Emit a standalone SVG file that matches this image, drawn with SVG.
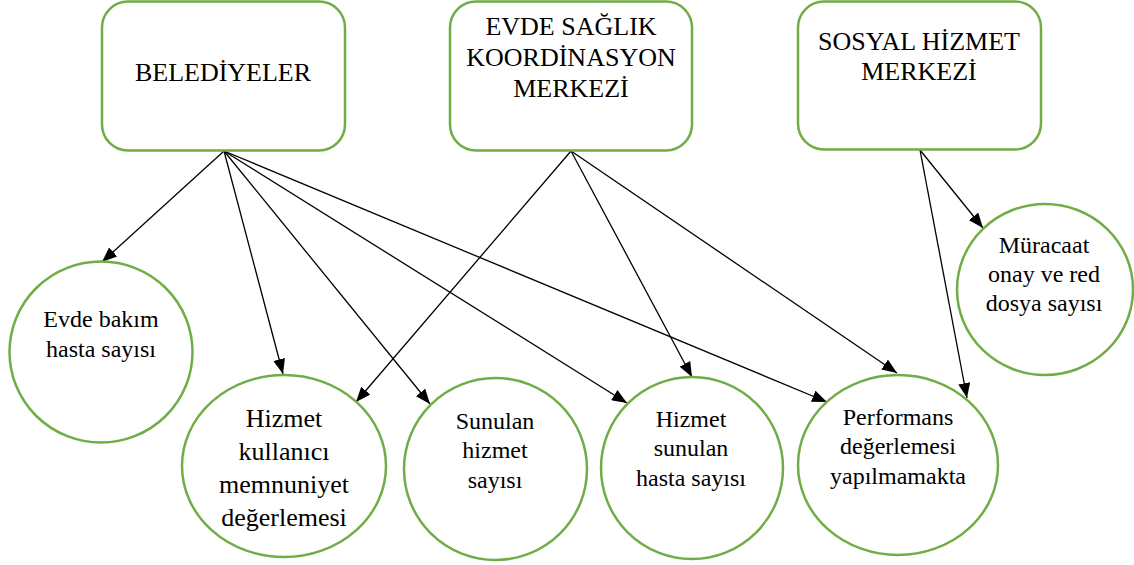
<svg xmlns="http://www.w3.org/2000/svg" width="1134" height="565" viewBox="0 0 1134 565">
<style>
.box{fill:#fff;stroke:#70AD47;stroke-width:2.5}
.node{fill:#fff;stroke:#70AD47;stroke-width:2.5}
text{font-family:'Liberation Serif','DejaVu Serif',serif;fill:#000;text-anchor:middle}
.big{font-size:26px}
.sm{font-size:24px}
.edge{stroke:#000;stroke-width:1.3;fill:none;marker-end:url(#arr)}
</style>
<defs>
<marker id="arr" markerUnits="userSpaceOnUse" markerWidth="15" markerHeight="12" refX="15" refY="6" orient="auto">
<path d="M0,0 L15,6 L0,12 z" fill="#000"/>
</marker>
</defs>
<rect width="1134" height="565" fill="#fff"/>
<g id="connectors">
<line class="edge" x1="224" y1="151" x2="102" y2="262"/>
<line class="edge" x1="224" y1="151" x2="283" y2="374"/>
<line class="edge" x1="224" y1="151" x2="430" y2="404"/>
<line class="edge" x1="224" y1="151" x2="627" y2="403"/>
<line class="edge" x1="224" y1="151" x2="827" y2="402"/>
<line class="edge" x1="571" y1="151" x2="356" y2="402"/>
<line class="edge" x1="571" y1="151" x2="692" y2="377"/>
<line class="edge" x1="571" y1="151" x2="897" y2="373"/>
<line class="edge" x1="920" y1="150" x2="983" y2="228"/>
<line class="edge" x1="920" y1="150" x2="967" y2="398"/>
</g>
<g id="belediyeler" font-family="Liberation Serif, serif">
<rect class="box" x="102" y="1.5" width="243" height="149" rx="26"/>
<text class="big" x="223" y="81" font-family="Liberation Serif, serif">BELEDİYELER</text>
</g>
<g id="evde-saglik" font-family="Liberation Serif, serif">
<rect class="box" x="450" y="1.5" width="242" height="149" rx="26"/>
<text class="big" x="571" y="35">EVDE SAĞLIK</text>
<text class="big" x="571" y="66">KOORDİNASYON</text>
<text class="big" x="571" y="97">MERKEZİ</text>
</g>
<g id="sosyal-hizmet">
<rect class="box" x="798" y="1.5" width="243" height="148" rx="26"/>
<text class="big" x="919" y="50">SOSYAL HİZMET</text>
<text class="big" x="919" y="80">MERKEZİ</text>
</g>
<g id="evde-bakim">
<ellipse class="node" cx="101" cy="352" rx="91.5" ry="90.5"/>
<text class="sm" x="101" y="327">Evde bakım</text>
<text class="sm" x="101" y="357">hasta sayısı</text>
</g>
<g id="hizmet-kullanici">
<ellipse class="node" cx="284" cy="466" rx="102" ry="91"/>
<text class="big" x="284" y="427">Hizmet</text>
<text class="big" x="284" y="460">kullanıcı</text>
<text class="big" x="284" y="493">memnuniyet</text>
<text class="big" x="284" y="526">değerlemesi</text>
</g>
<g id="sunulan-hizmet">
<ellipse class="node" cx="495.5" cy="469" rx="91.5" ry="91"/>
<text class="sm" x="495" y="429">Sunulan</text>
<text class="sm" x="495" y="458">hizmet</text>
<text class="sm" x="495" y="488">sayısı</text>
</g>
<g id="hizmet-sunulan">
<ellipse class="node" cx="692" cy="468" rx="91" ry="91"/>
<text class="sm" x="691" y="427">Hizmet</text>
<text class="sm" x="691" y="456">sunulan</text>
<text class="sm" x="691" y="486">hasta sayısı</text>
</g>
<g id="performans">
<ellipse class="node" cx="898" cy="465" rx="100" ry="90"/>
<text class="sm" x="898" y="425">Performans</text>
<text class="sm" x="898" y="454">değerlemesi</text>
<text class="sm" x="898" y="484">yapılmamakta</text>
</g>
<g id="muracaat">
<ellipse class="node" cx="1045" cy="289.5" rx="88" ry="85.5"/>
<text class="sm" x="1044" y="253">Müracaat</text>
<text class="sm" x="1044" y="282">onay ve red</text>
<text class="sm" x="1044" y="311">dosya sayısı</text>
</g>
</svg>
